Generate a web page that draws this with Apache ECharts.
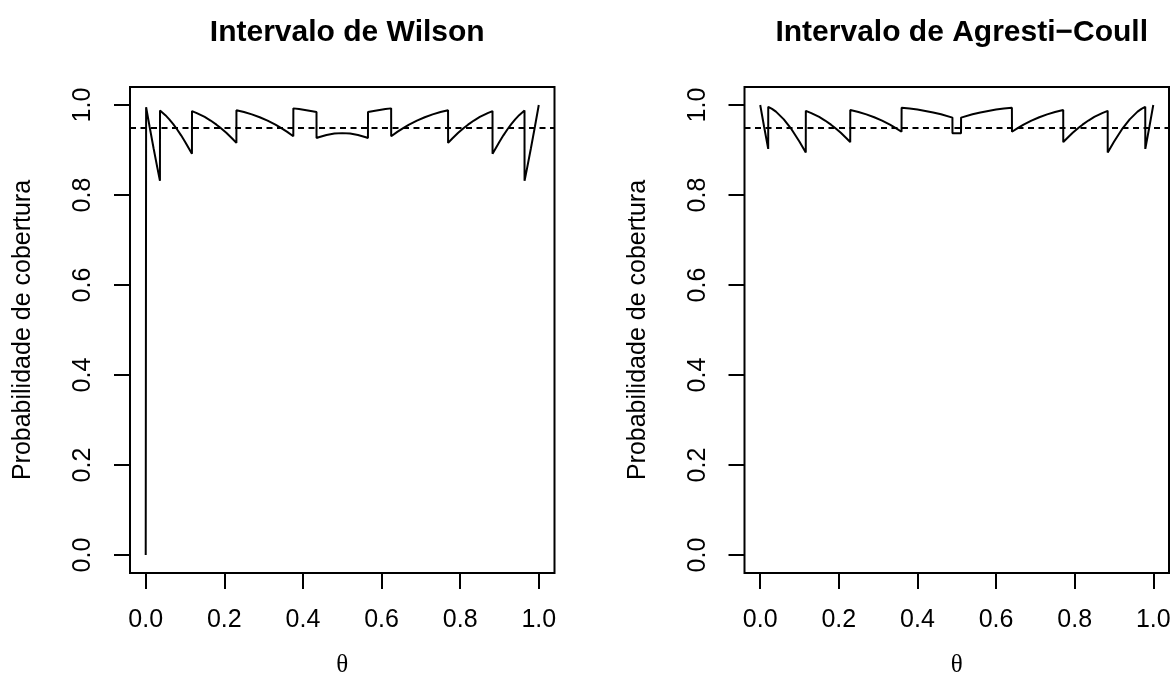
<!DOCTYPE html>
<html>
<head>
<meta charset="utf-8">
<title>Probabilidade de cobertura</title>
<script src="https://cdn.jsdelivr.net/npm/echarts@6/dist/echarts.min.js"></script>
<style>
  html, body { margin: 0; padding: 0; background: #ffffff; }
  #chart { width: 1175px; height: 693px; }
</style>
</head>
<body>
<div id="chart"></div>
<script>
// Coverage probability of the 95% intervals for a binomial proportion (n = 5)

const panelTitles = ['Intervalo de Wilson', 'Intervalo de Agresti\u2212Coull'];
const yAxisTitle = 'Probabilidade de cobertura';
const xAxisTitle = '\u03b8';
const nominalLevel = [0.95];

// Wilson interval: theta values and coverage
const thetaWilson = [
  0, 0.001, 0.01, 0.02, 0.03, 0.0362,
  0.0363, 0.05, 0.06, 0.07, 0.08, 0.09, 0.10, 0.1176,
  0.1177, 0.13, 0.15, 0.165, 0.18, 0.19, 0.205, 0.22, 0.2307,
  0.2308, 0.25, 0.27, 0.29, 0.31, 0.33, 0.345, 0.36, 0.3755,
  0.3756, 0.39, 0.405, 0.42, 0.4345,
  0.4346, 0.44, 0.46, 0.48, 0.50, 0.52, 0.54, 0.56, 0.5654,
  0.5655, 0.58, 0.595, 0.61, 0.6244,
  0.6245, 0.64, 0.655, 0.67, 0.69, 0.71, 0.73, 0.75, 0.7692,
  0.7693, 0.78, 0.795, 0.81, 0.82, 0.835, 0.85, 0.87, 0.8823,
  0.8824, 0.90, 0.91, 0.92, 0.93, 0.94, 0.95, 0.9637,
  0.9638, 0.97, 0.98, 0.99, 0.999, 1.0
];
const coverageWilson = [
  0, 0.9950, 0.9510, 0.9039, 0.8587, 0.8316,
  0.9878, 0.9774, 0.9681, 0.9575, 0.9456, 0.9326, 0.9185, 0.8915,
  0.9865, 0.9821, 0.9734, 0.9655, 0.9563, 0.9495, 0.9382, 0.9256, 0.9158,
  0.9884, 0.9844, 0.9792, 0.9728, 0.9653, 0.9564, 0.9487, 0.9402, 0.9305,
  0.9925, 0.9910, 0.9891, 0.9869, 0.9845,
  0.9267, 0.9284, 0.9335, 0.9365, 0.9375, 0.9365, 0.9335, 0.9284, 0.9267,
  0.9845, 0.9869, 0.9891, 0.9910, 0.9925,
  0.9305, 0.9402, 0.9487, 0.9564, 0.9653, 0.9728, 0.9792, 0.9844, 0.9884,
  0.9158, 0.9256, 0.9382, 0.9495, 0.9563, 0.9655, 0.9734, 0.9821, 0.9865,
  0.8915, 0.9185, 0.9326, 0.9456, 0.9575, 0.9681, 0.9774, 0.9878,
  0.8316, 0.8587, 0.9039, 0.9510, 0.9950, 1.0
];

// Agresti-Coull interval: theta values and coverage
const thetaAgresti = [
  0, 0.01, 0.0203,
  0.0204, 0.03, 0.04, 0.06, 0.08, 0.10, 0.1159,
  0.1160, 0.13, 0.15, 0.165, 0.18, 0.19, 0.205, 0.22, 0.2290,
  0.2291, 0.25, 0.27, 0.29, 0.31, 0.33, 0.345, 0.3595,
  0.3597, 0.38, 0.40, 0.42, 0.44, 0.46, 0.4890,
  0.4891, 0.50, 0.5109,
  0.5110, 0.54, 0.56, 0.58, 0.60, 0.62, 0.6403,
  0.6405, 0.655, 0.67, 0.69, 0.71, 0.73, 0.75, 0.7709,
  0.7710, 0.78, 0.795, 0.81, 0.82, 0.835, 0.85, 0.87, 0.8840,
  0.8841, 0.90, 0.92, 0.94, 0.96, 0.97, 0.9796,
  0.9797, 0.99, 1.0
];
const coverageAgresti = [
  1.0, 0.9510, 0.9025,
  0.9960, 0.9915, 0.9853, 0.9681, 0.9456, 0.9185, 0.8942,
  0.9870, 0.9821, 0.9734, 0.9655, 0.9563, 0.9495, 0.9382, 0.9256, 0.9174,
  0.9888, 0.9844, 0.9792, 0.9728, 0.9653, 0.9564, 0.9487, 0.9405,
  0.9940, 0.9921, 0.9898, 0.9869, 0.9835, 0.9794, 0.9720,
  0.9372, 0.9375, 0.9372,
  0.9720, 0.9794, 0.9835, 0.9869, 0.9898, 0.9921, 0.9940,
  0.9405, 0.9487, 0.9564, 0.9653, 0.9728, 0.9792, 0.9844, 0.9888,
  0.9174, 0.9256, 0.9382, 0.9495, 0.9563, 0.9655, 0.9734, 0.9821, 0.9870,
  0.8942, 0.9185, 0.9456, 0.9681, 0.9853, 0.9915, 0.9960,
  0.9025, 0.9510, 1.0
];

// Tick positions shared by both axes of each panel
const tickValues = [0, 0.2, 0.4, 0.6, 0.8, 1.0];

const pairs = (xs, ys) => xs.map((x, i) => [x, ys[i]]);
const panelData = [
  pairs(thetaWilson, coverageWilson),
  pairs(thetaAgresti, coverageAgresti)
];

const FONT = '"Liberation Sans", Arial, Helvetica, sans-serif';
const SERIF = '"Liberation Serif", "Times New Roman", serif';
const INK = '#000000';

// Plot box spans the data range padded by 4% on each side
const PAD = 0.04;
const boxLeft = [130, 744.5];
const boxTop = 87;
const boxW = 424.5;
const boxH = 486;

const grids = [], xAxes = [], yAxes = [], series = [], titles = [];

const tickStyle = { show: true, inside: false, length: 16, lineStyle: { color: INK, width: 2 }, customValues: tickValues };
const fmt = v => Number(v).toFixed(1);

panelData.forEach((data, p) => {
  grids.push({
    left: boxLeft[p], top: boxTop, width: boxW, height: boxH,
    show: true, borderColor: INK, borderWidth: 2, backgroundColor: 'transparent'
  });
  xAxes.push({
    gridIndex: p, type: 'value', min: -PAD, max: 1 + PAD,
    position: 'bottom',
    axisLine: { show: false, onZero: false },
    axisTick: tickStyle,
    axisLabel: {
      show: true, margin: 35, color: INK, fontSize: 25, fontFamily: FONT,
      customValues: tickValues, formatter: fmt
    },
    splitLine: { show: false },
    name: xAxisTitle, nameLocation: 'middle', nameGap: 80,
    nameTextStyle: { color: INK, fontSize: 25, fontFamily: SERIF }
  });
  yAxes.push({
    gridIndex: p, type: 'value', min: -PAD, max: 1 + PAD,
    position: 'left',
    axisLine: { show: false, onZero: false },
    axisTick: tickStyle,
    axisLabel: {
      show: true, margin: 34, rotate: 90, color: INK, fontSize: 25, fontFamily: FONT,
      customValues: tickValues, formatter: fmt
    },
    splitLine: { show: false },
    name: yAxisTitle, nameLocation: 'middle', nameGap: 94, nameRotate: 90,
    nameTextStyle: { color: INK, fontSize: 25, fontFamily: FONT }
  });

  series.push({
    type: 'line', xAxisIndex: p, yAxisIndex: p,
    data: data, showSymbol: false, symbol: 'none', smooth: false,
    lineStyle: { color: INK, width: 2 },
    silent: true,
    markLine: {
      silent: true, symbol: ['none', 'none'], label: { show: false },
      lineStyle: { color: INK, width: 2, type: [6, 4.5] },
      data: nominalLevel.map(v => ({ yAxis: v }))
    }
  });

  titles.push({
    text: panelTitles[p],
    left: boxLeft[p] + boxW / 2, top: 13, textAlign: 'center',
    textStyle: { color: INK, fontSize: 30, fontWeight: 'bold', fontFamily: FONT }
  });
});

const chart = echarts.init(document.getElementById('chart'), null, { renderer: 'canvas' });
chart.setOption({
  animation: false,
  backgroundColor: '#ffffff',
  title: titles,
  grid: grids,
  xAxis: xAxes,
  yAxis: yAxes,
  series: series
});
</script>
</body>
</html>
